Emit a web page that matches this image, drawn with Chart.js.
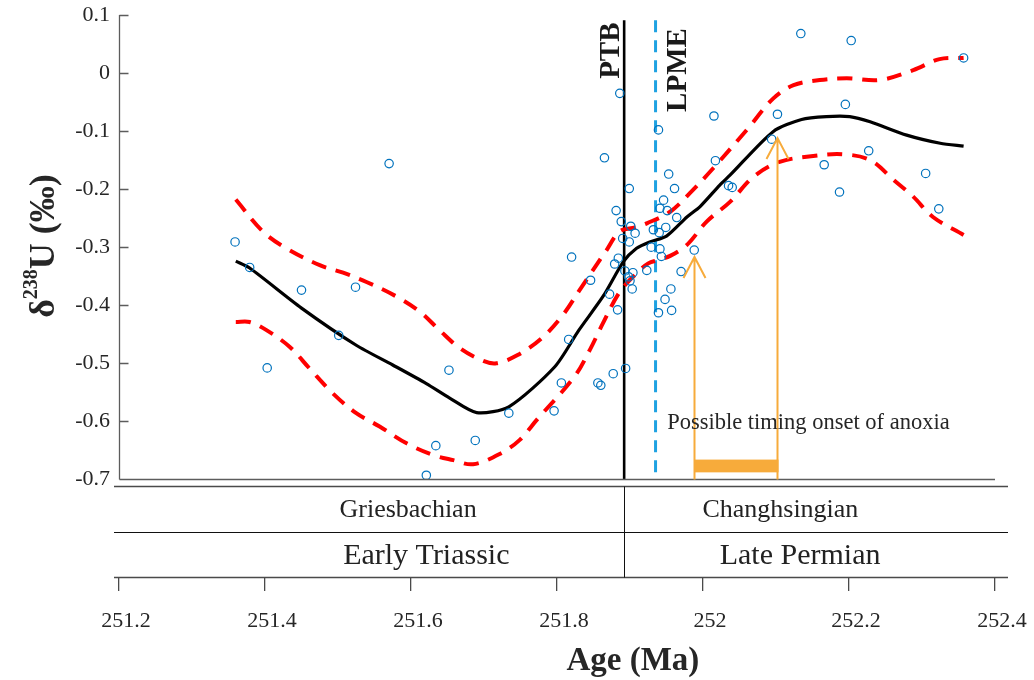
<!DOCTYPE html>
<html>
<head>
<meta charset="utf-8">
<script src="https://cdn.jsdelivr.net/npm/chart.js@4.4.1/dist/chart.umd.min.js"></script>
<style>
  html, body { margin: 0; padding: 0; background: #fff; }
  #wrap { width: 1034px; height: 680px; }
</style>
</head>
<body>
<div id="wrap"><canvas id="chart" width="1034" height="680"></canvas></div>
<script>
// δ238U measurements (‰) against age (Ma)
const sampleAge = [
  251.359, 251.379, 251.403, 251.450, 251.501, 251.524, 251.570, 251.652, 251.634, 251.621,
  251.688, 251.734, 251.796, 251.806, 251.816, 251.820, 251.846, 251.856, 251.860, 251.865,
  251.872, 251.877, 251.879, 251.881, 251.883, 251.884, 251.886, 251.888, 251.890, 251.894,
  251.893, 251.899, 251.899, 251.898, 251.900, 251.901, 251.904, 251.903, 251.907, 251.923,
  251.929, 251.932, 251.939, 251.939, 251.940, 251.941, 251.941, 251.943, 251.946, 251.948,
  251.949, 251.951, 251.953, 251.956, 251.957, 251.961, 251.964, 251.970, 251.988, 252.015,
  252.017, 252.035, 252.040, 252.094, 252.102, 252.134, 252.166, 252.187, 252.195, 252.203,
  252.227, 252.305, 252.323, 252.357
];
const sampleU = [
  -0.291, -0.335, -0.508, -0.374, -0.452, -0.369, -0.156, -0.512, -0.642, -0.693,
  -0.633, -0.586, -0.582, -0.534, -0.459, -0.317, -0.357, -0.534, -0.538, -0.146,
  -0.381, -0.518, -0.329, -0.237, -0.408, -0.319, -0.035, -0.256, -0.285, -0.509,
  -0.341, -0.199, -0.291, -0.351, -0.358, -0.264, -0.344, -0.372, -0.276, -0.340,
  -0.300, -0.270, -0.098, -0.413, -0.275, -0.233, -0.303, -0.316, -0.219, -0.390,
  -0.266, -0.237, -0.174, -0.372, -0.409, -0.199, -0.249, -0.342, -0.305, -0.074,
  -0.151, -0.194, -0.197, -0.114, -0.071, 0.068, -0.158, -0.205, -0.054, 0.056,
  -0.134, -0.173, -0.234, 0.026
];

// smoothed trend and its confidence envelope
const meanAge = [251.360, 251.379, 251.450, 251.525, 251.575, 251.621, 251.653, 251.690, 251.734, 251.797,
  251.830, 251.863, 251.891, 251.909, 251.927, 251.950, 251.978, 251.996, 252.023, 252.037,
  252.096, 252.135, 252.169, 252.201, 252.229, 252.279, 252.325, 252.357];
const meanU = [-0.324, -0.336, -0.405, -0.469, -0.503, -0.535, -0.560, -0.585, -0.575, -0.506,
  -0.443, -0.385, -0.325, -0.302, -0.291, -0.281, -0.248, -0.230, -0.193, -0.176,
  -0.101, -0.080, -0.075, -0.075, -0.084, -0.107, -0.121, -0.126];

const upperAge = [251.360, 251.397, 251.429, 251.475, 251.507, 251.539, 251.580, 251.612, 251.639, 251.667,
  251.699, 251.717, 251.746, 251.779, 251.808, 251.833, 251.868, 251.886, 251.907, 251.923,
  251.955, 251.982, 252.014, 252.060, 252.096, 252.124, 252.160, 252.197, 252.242, 252.288,
  252.324, 252.357];
const upperU = [-0.218, -0.273, -0.302, -0.331, -0.344, -0.360, -0.385, -0.411, -0.443, -0.474,
  -0.496, -0.500, -0.486, -0.457, -0.417, -0.370, -0.305, -0.273, -0.266, -0.259,
  -0.239, -0.207, -0.164, -0.098, -0.044, -0.021, -0.012, -0.009, -0.012, 0.005,
  0.024, 0.026];

const lowerAge = [251.360, 251.379, 251.402, 251.434, 251.461, 251.493, 251.525, 251.557, 251.594, 251.630,
  251.658, 251.685, 251.722, 251.749, 251.772, 251.824, 251.845, 251.863, 251.886, 251.909,
  251.925, 251.939, 251.955, 251.978, 252.005, 252.037, 252.069, 252.105, 252.151, 252.192,
  252.229, 252.261, 252.288, 252.315, 252.357];
const lowerU = [-0.429, -0.429, -0.443, -0.472, -0.509, -0.552, -0.586, -0.609, -0.638, -0.658,
  -0.667, -0.674, -0.656, -0.632, -0.598, -0.523, -0.477, -0.431, -0.377, -0.345,
  -0.328, -0.322, -0.315, -0.296, -0.256, -0.222, -0.179, -0.153, -0.143, -0.140,
  -0.150, -0.184, -0.213, -0.248, -0.279];

// event boundaries (Ma)
const ptbAge = 251.892;
const lpmeAge = 251.935;
const boundaryU = [0.091, -0.7];

// possible onset window of anoxia
const onsetAge = [251.988, 252.102];
const onsetTipU = [-0.317, -0.112];
const onsetBarU = [-0.666, -0.688];

// axis ticks
const xTicks = [251.2, 251.4, 251.6, 251.8, 252.0, 252.2, 252.4];
const yTicks = [0.1, 0, -0.1, -0.2, -0.3, -0.4, -0.5, -0.6, -0.7];

// chronostratigraphy
const stageNames = ['Griesbachian', 'Changhsingian'];
const epochNames = ['Early Triassic', 'Late Permian'];

const serif = '"Liberation Serif", "Times New Roman", Times, serif';
const toXY = (xs, ys) => xs.map((v, i) => ({ x: v, y: ys[i] }));

const stratPlugin = {
  id: 'strat',
  afterDraw(chart, args, opts) {
    const { ctx, chartArea: a, scales: { x, y } } = chart;
    const yTop = y.getPixelForValue(yTicks[0]);
    const yBot = Math.round(y.getPixelForValue(yTicks[yTicks.length - 1])) + 0.5;
    const L = Math.round(a.left) + 0.5;
    ctx.save();

    // left axis with inward ticks and lower frame of the data panel
    ctx.strokeStyle = '#5c5c5c';
    ctx.lineWidth = 1.3;
    ctx.beginPath();
    ctx.moveTo(L, yTop);
    ctx.lineTo(L, yBot);
    yTicks.forEach(v => {
      const p = Math.round(y.getPixelForValue(v)) + 0.5;
      ctx.moveTo(L, p);
      ctx.lineTo(L + 9, p);
    });
    ctx.moveTo(L, yBot);
    ctx.lineTo(a.right, yBot);
    ctx.stroke();

    // stratigraphic table
    const r1 = yBot + 7, r3 = Math.round(a.bottom) + 0.5;
    const r2 = Math.round((r1 + r3) / 2) + 0.5;
    const x0 = a.left - 5, x1 = a.right + 13;
    const xp = Math.round(x.getPixelForValue(ptbAge)) + 0.5;
    ctx.strokeStyle = '#4a4a4a';
    ctx.lineWidth = 1.5;
    ctx.beginPath();
    ctx.moveTo(x0, r1); ctx.lineTo(x1, r1);
    ctx.moveTo(x0, r3); ctx.lineTo(x1, r3);
    ctx.stroke();
    ctx.strokeStyle = '#111';
    ctx.lineWidth = 1;
    ctx.beginPath();
    ctx.moveTo(x0, r2); ctx.lineTo(x1, r2);
    ctx.moveTo(xp, r1); ctx.lineTo(xp, r3);
    ctx.stroke();

    ctx.fillStyle = '#222';
    ctx.textAlign = 'center';
    ctx.textBaseline = 'middle';
    ctx.font = '26px ' + serif;
    ctx.fillText(stageNames[0], x.getPixelForValue(opts.stageAt[0]), (r1 + r2) / 2 + 1);
    ctx.fillText(stageNames[1], x.getPixelForValue(opts.stageAt[1]), (r1 + r2) / 2 + 1);
    ctx.font = '30px ' + serif;
    ctx.fillText(epochNames[0], x.getPixelForValue(opts.epochAt[0]), (r2 + r3) / 2 + 1);
    ctx.fillText(epochNames[1], x.getPixelForValue(opts.epochAt[1]), (r2 + r3) / 2 + 1);

    // x axis title
    ctx.font = 'bold 33px ' + serif;
    ctx.fillStyle = '#262626';
    ctx.fillText('Age (Ma)', x.getPixelForValue(opts.titleAt), 661);

    // y axis title with superscript mass number
    const big = 'bold 36px ' + serif, small = 'bold 20px ' + serif;
    ctx.font = big;
    const wD = ctx.measureText('δ').width, wU = ctx.measureText('U (‰)').width;
    ctx.font = small;
    const wS = ctx.measureText('238').width;
    const total = wD + wS + wU;
    ctx.translate(opts.yTitleX, opts.yTitleY);
    ctx.rotate(-Math.PI / 2);
    ctx.textAlign = 'left';
    ctx.textBaseline = 'alphabetic';
    let cx = -total / 2;
    ctx.font = big; ctx.fillText('δ', cx, 12); cx += wD;
    ctx.font = small; ctx.fillText('238', cx, -5); cx += wS;
    ctx.font = big; ctx.fillText('U (‰)', cx, 12);
    ctx.setTransform(1, 0, 0, 1, 0, 0);

    // boundary labels
    ctx.font = 'bold 29px ' + serif;
    ctx.fillStyle = '#1a1a1a';
    [['PTB', ptbAge, opts.ptbLabel], ['LPME', lpmeAge, opts.lpmeLabel]].forEach(([t, age, o]) => {
      ctx.save();
      ctx.translate(x.getPixelForValue(age) + o.dx, y.getPixelForValue(o.u));
      ctx.rotate(-Math.PI / 2);
      ctx.textAlign = 'left';
      ctx.fillText(t, 0, 0);
      ctx.restore();
    });

    // onset window: arrows, bar and caption
    ctx.strokeStyle = '#f7ab3b';
    ctx.fillStyle = '#f7ab3b';
    ctx.lineWidth = 2;
    ctx.beginPath();
    onsetAge.forEach((age, i) => {
      const ax = Math.round(x.getPixelForValue(age)) + 0.5;
      const tip = y.getPixelForValue(onsetTipU[i]);
      ctx.moveTo(ax, yBot);
      ctx.lineTo(ax, tip);
      ctx.moveTo(ax - 11, tip + 21);
      ctx.lineTo(ax, tip);
      ctx.lineTo(ax + 11, tip + 21);
    });
    ctx.stroke();
    const bx0 = x.getPixelForValue(onsetAge[0]), bx1 = x.getPixelForValue(onsetAge[1]);
    const by0 = y.getPixelForValue(onsetBarU[0]), by1 = y.getPixelForValue(onsetBarU[1]);
    ctx.fillRect(bx0, by0, bx1 - bx0 + 1, by1 - by0);

    ctx.fillStyle = '#262626';
    ctx.font = '22.5px ' + serif;
    ctx.textAlign = 'left';
    ctx.textBaseline = 'alphabetic';
    ctx.fillText('Possible timing onset of anoxia', x.getPixelForValue(opts.captionAt[0]), y.getPixelForValue(opts.captionAt[1]));
    ctx.restore();
  }
};

new Chart(document.getElementById('chart'), {
  type: 'scatter',
  data: {
    datasets: [
      {
        label: 'δ238U',
        data: toXY(sampleAge, sampleU),
        showLine: false,
        pointRadius: 4.2,
        pointBorderWidth: 1.2,
        pointBorderColor: '#0072BD',
        pointBackgroundColor: 'rgba(0,0,0,0)',
        order: 0
      },
      {
        label: 'upper',
        data: toXY(upperAge, upperU),
        showLine: true,
        borderColor: '#ff0000',
        borderWidth: 4,
        borderDash: [15, 10],
        pointRadius: 0,
        tension: 0.35,
        order: 2
      },
      {
        label: 'lower',
        data: toXY(lowerAge, lowerU),
        showLine: true,
        borderColor: '#ff0000',
        borderWidth: 4,
        borderDash: [15, 10],
        pointRadius: 0,
        tension: 0.35,
        order: 2
      },
      {
        label: 'mean',
        data: toXY(meanAge, meanU),
        showLine: true,
        borderColor: '#000',
        borderWidth: 3.2,
        pointRadius: 0,
        tension: 0.25,
        order: 1
      },
      {
        label: 'PTB',
        data: toXY([ptbAge, ptbAge], boundaryU),
        showLine: true,
        borderColor: '#000',
        borderWidth: 2.6,
        pointRadius: 0,
        order: 3
      },
      {
        label: 'LPME',
        data: toXY([lpmeAge, lpmeAge], boundaryU),
        showLine: true,
        borderColor: '#1fa2e2',
        borderWidth: 3,
        borderDash: [12, 8],
        pointRadius: 0,
        order: 3
      }
    ]
  },
  options: {
    responsive: false,
    animation: false,
    events: [],
    layout: { padding: { left: 0, right: 39, top: 15, bottom: 0 } },
    plugins: {
      legend: { display: false },
      tooltip: { enabled: false },
      strat: {
        stageAt: [251.596, 252.106],
        epochAt: [251.621, 252.133],
        titleAt: 251.904,
        yTitleX: 42,
        yTitleY: 246,
        ptbLabel: { dx: -5, u: -0.010 },
        lpmeLabel: { dx: 30, u: -0.067 },
        captionAt: [251.951, -0.613]
      }
    },
    scales: {
      x: {
        type: 'linear',
        min: 251.2,
        max: 252.4,
        afterBuildTicks: s => { s.ticks = xTicks.map(v => ({ value: v })); },
        afterFit: s => { s.height = 103; s.paddingLeft = 0; s.paddingRight = 0; },
        border: { display: false },
        grid: { drawOnChartArea: false, drawTicks: true, tickLength: 14, color: '#4a4a4a', lineWidth: 1.3 },
        ticks: {
          padding: 17,
          labelOffset: 7,
          maxRotation: 0,
          color: '#262626',
          font: { family: serif, size: 22 },
          callback: v => String(+v.toFixed(1))
        }
      },
      y: {
        type: 'linear',
        min: -0.8683,
        max: 0.1,
        afterBuildTicks: s => { s.ticks = yTicks.map(v => ({ value: v })); },
        afterFit: s => { s.width = 119; s.paddingTop = 0; s.paddingBottom = 0; },
        border: { display: false },
        grid: { display: false, drawTicks: false },
        ticks: {
          padding: 9,
          color: '#262626',
          font: { family: serif, size: 22 },
          callback: v => String(+v.toFixed(1))
        }
      }
    }
  },
  plugins: [stratPlugin]
});
</script>
</body>
</html>
